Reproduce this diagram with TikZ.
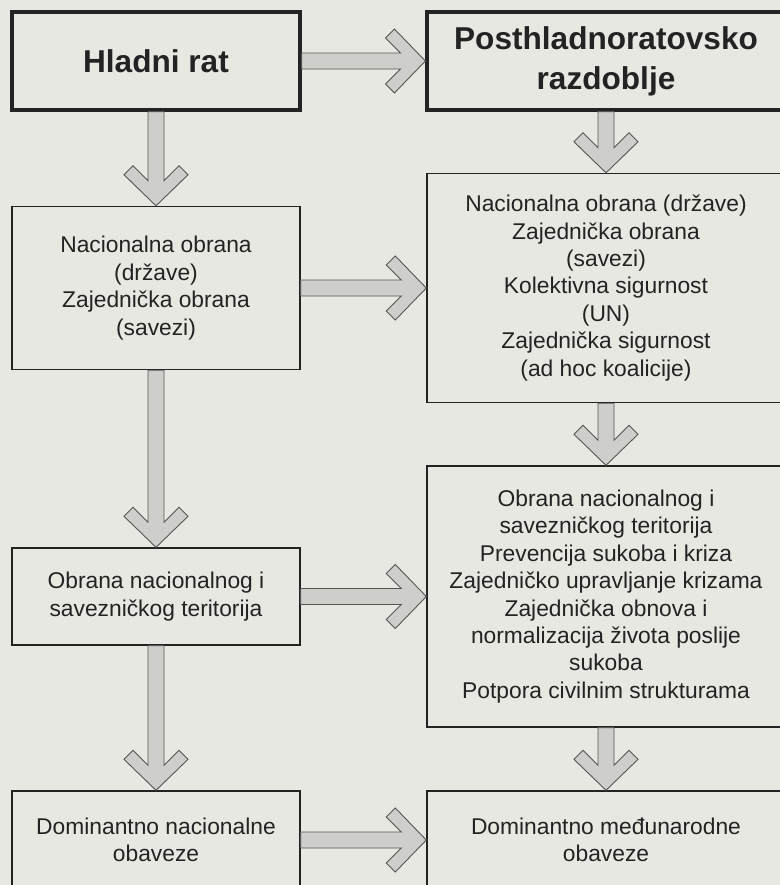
\documentclass[tikz,border=0pt]{standalone}
\usepackage{fontspec}
\setmainfont{Liberation Sans}
\usepackage{tikz}
\usetikzlibrary{calc}
\definecolor{paper}{RGB}{232,232,227}
\definecolor{ink}{RGB}{35,35,35}
\definecolor{arr}{RGB}{206,206,203}
\definecolor{rim}{RGB}{85,85,85}
\tikzstyle{box}=[draw=ink,line width=.7pt,text=ink,align=center,inner sep=0pt,
	font=\fontsize{11.4}{13.7}\selectfont]
\tikzstyle{head}=[box,line width=1.6pt,font=\bfseries\fontsize{15.8}{20}\selectfont]
% fat hollow-headed arrow, tip on the target border
\tikzstyle{fat}=[draw=rim,line width=.45pt,fill=arr,
	to path={($(\tikztostart)!4pt!90:(\tikztotarget)$)
		-- ($(\tikztotarget)!12.5pt!(\tikztostart)!4pt!-90:(\tikztostart)$)
		-- ($(\tikztotarget)!20pt!(\tikztostart)!11.5pt!-90:(\tikztostart)$)
		-- ($(\tikztotarget)!15.5pt!(\tikztostart)!16pt!-90:(\tikztostart)$)
		-- (\tikztotarget)
		-- ($(\tikztotarget)!15.5pt!(\tikztostart)!16pt!90:(\tikztostart)$)
		-- ($(\tikztotarget)!20pt!(\tikztostart)!11.5pt!90:(\tikztostart)$)
		-- ($(\tikztotarget)!12.5pt!(\tikztostart)!4pt!90:(\tikztostart)$)
		-- ($(\tikztostart)!4pt!-90:(\tikztotarget)$)
		-- cycle}]

\begin{document}
\begin{tikzpicture}[x=.5pt,y=-.5pt,node distance=225pt]
	\useasboundingbox[fill=paper] (0,0) rectangle (780,885);
	\node[head,minimum width=144pt,minimum height=49pt] (hr) at (156,61) {Hladni rat};
	\node[head,minimum width=179pt,minimum height=49pt] (pr) [right of=hr] {Posthladnoratovsko\\razdoblje};
	\node[box,minimum width=144pt,minimum height=81.5pt] (hrobr) at (156,288) {Nacionalna obrana\\(države)\\Zajednička obrana\\(savezi)};
	\node[box,minimum width=179pt,minimum height=114.5pt] (probr) [right of=hrobr] {Nacionalna obrana (države)\\Zajednička obrana\\(savezi)\\Kolektivna sigurnost\\(UN)\\Zajednička sigurnost\\(ad hoc koalicije)};
	\node[box,minimum width=144pt,minimum height=48.5pt] (hrter) at (156,596.5) {Obrana nacionalnog i\\savezničkog teritorija};
	\node[box,minimum width=179pt,minimum height=130.5pt] (prter) [right of=hrter] {Obrana nacionalnog i\\savezničkog teritorija\\Prevencija sukoba i kriza\\Zajedničko upravljanje krizama\\Zajednička obnova i\\normalizacija života poslije\\sukoba\\Potpora civilnim strukturama};
	\node[box,minimum width=144pt,minimum height=49pt] (hrobv) at (156,840) {Dominantno nacionalne\\obaveze};
	\node[box,minimum width=179pt,minimum height=49pt] (probv) [right of=hrobv] {Dominantno međunarodne\\obaveze};
	\path
		(hr.east)	edge[fat]	(pr.west)
		(hr.south)	edge[fat]	(hrobr.north)
		(pr.south)	edge[fat]	(probr.north)
		(hrobr.east)	edge[fat]	(probr.west)
		(hrobr.south)	edge[fat]	(hrter.north)
		(probr.south)	edge[fat]	(prter.north)
		(hrter.east)	edge[fat]	(prter.west)
		(hrter.south)	edge[fat]	(hrobv.north)
		(prter.south)	edge[fat]	(probv.north)
		(hrobv.east)	edge[fat]	(probv.west);
\end{tikzpicture}
\end{document}
